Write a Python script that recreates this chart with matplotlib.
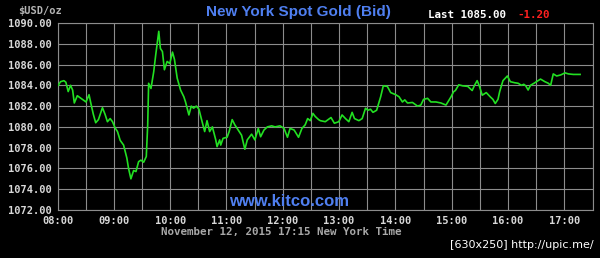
import matplotlib
matplotlib.use("Agg")
from matplotlib import pyplot as plt
import numpy as np

# minutes after 08:00 New York time, bid price
minutes = [0.7, 3.2, 6.8, 8.9, 11.4, 13.9, 16.1, 17.9, 21.1, 25.7, 30.4, 33.6, 35.7, 38.2,
           40.7, 43.6, 47.9, 50.7, 53.2, 56.1, 58.6, 61.4, 63.9, 66.8, 70.4, 73.9, 75.7,
           78.2, 81.1, 83.6, 86.4, 88.9, 91.8, 94.6, 96.1, 97.1, 99.6, 102.5, 104.6, 107.9,
           109.6, 111.8, 113.9, 116.8, 119.6, 122.5, 124.6, 127.5, 131.1, 134.6, 136.4,
           140.0, 142.5, 145.0, 147.9, 150.7, 153.2, 156.8, 159.3, 162.1, 165.0, 168.6,
           170.0, 172.8, 173.9, 176.4, 180.7, 182.9, 186.1, 188.9, 192.5, 196.1, 199.6,
           202.2, 206.8, 210.3, 213.9, 216.4, 220.0, 223.6, 228.2, 231.8, 237.1, 241.4,
           245.0, 247.8, 252.1, 256.8, 260.4, 263.9, 266.5, 269.3, 272.1, 274.6, 278.2,
           280.0, 285.3, 291.4, 295.0, 299.7, 303.2, 306.8, 310.4, 313.9, 316.4, 321.1,
           324.6, 328.2, 330.7, 333.5, 336.1, 340.0, 344.3, 347.1, 351.4, 355.0, 360.3,
           363.9, 367.5, 370.0, 372.9, 378.2, 383.6, 387.1, 390.0, 394.3, 397.8, 403.2,
           408.5, 413.9, 419.3, 422.1, 423.9, 427.5, 431.8, 437.1, 441.8, 444.3, 447.1,
           449.6, 452.5, 456.8, 461.0, 463.9, 466.4, 469.3, 471.1, 474.6, 479.3, 482.5,
           487.1, 490.7, 494.3, 496.8, 498.9, 501.4, 503.9, 508.6, 512.1, 514.6, 519.3,
           522.9, 525.4, 528.2, 531.8, 536.1, 540.7, 544.3, 549.6, 556.8]
bid = [1084.0, 1084.35, 1084.45, 1084.3, 1083.4, 1084.0, 1083.55, 1082.3, 1083.0, 1082.7,
       1082.4, 1083.1, 1082.2, 1081.2, 1080.4, 1080.7, 1081.85, 1081.2, 1080.5, 1080.8,
       1080.5, 1079.9, 1079.55, 1078.7, 1078.25, 1077.0, 1076.0, 1075.0, 1075.8, 1075.7,
       1076.65, 1076.8, 1076.6, 1077.15, 1080.2, 1084.2, 1083.7, 1085.3, 1086.9, 1089.2,
       1087.55, 1087.25, 1085.5, 1086.3, 1086.1, 1087.2, 1086.5, 1084.7, 1083.55, 1082.9,
       1082.4, 1081.15, 1082.0, 1081.8, 1082.0, 1081.7, 1080.8, 1079.55, 1080.6, 1079.55,
       1080.0, 1078.75, 1078.1, 1078.75, 1078.25, 1078.9, 1079.0, 1079.55, 1080.7, 1080.2,
       1079.7, 1079.2, 1077.85, 1078.75, 1079.3, 1078.75, 1079.85, 1079.05, 1079.7, 1080.0,
       1080.1, 1080.0, 1080.1, 1079.85, 1079.0, 1079.85, 1079.7, 1079.0, 1079.85, 1080.2,
       1080.8, 1080.6, 1081.3, 1081.0, 1080.7, 1080.6, 1080.5, 1080.9, 1080.35, 1080.5,
       1081.15, 1080.8, 1080.5, 1081.4, 1080.8, 1080.6, 1080.8, 1081.8, 1081.6, 1081.7,
       1081.4, 1081.6, 1082.9, 1083.95, 1083.9, 1083.3, 1083.1, 1082.9, 1082.4, 1082.6,
       1082.3, 1082.35, 1082.0, 1082.1, 1082.65, 1082.75, 1082.4, 1082.4, 1082.3, 1082.1,
       1082.9, 1083.4, 1083.5, 1084.05, 1083.95, 1083.9, 1083.5, 1084.0, 1084.45, 1083.9,
       1083.05, 1083.3, 1082.9, 1082.65, 1082.25, 1082.65, 1083.4, 1084.45, 1084.9, 1084.35,
       1084.25, 1084.2, 1084.0, 1084.1, 1083.95, 1083.55, 1084.0, 1084.25, 1084.45, 1084.6,
       1084.35, 1084.2, 1084.0, 1085.1, 1084.9, 1085.0, 1085.2, 1085.1, 1085.05, 1085.05]

hour_labels = ["08:00", "09:00", "10:00", "11:00", "12:00", "13:00", "14:00",
               "15:00", "16:00", "17:00"]
price_ticks = [1072, 1074, 1076, 1078, 1080, 1082, 1084, 1086, 1088, 1090]

mono = "DejaVu Sans Mono"
grey_txt = "#d8d8d8"

fig = plt.figure(figsize=(6, 2.58), dpi=100, facecolor="black")
ax = fig.add_axes([57.5 / 600, 1 - 210 / 258, 535 / 600, 187 / 258])
ax.set_facecolor("black")

ax.plot(minutes, bid, color="#22e022", lw=1.2, zorder=3)

ax.set_xlim(0, 570)
ax.set_ylim(1072, 1090)
ax.set_xticks(np.arange(len(hour_labels)) * 60)
ax.set_xticklabels(hour_labels)
ax.set_xticks(np.arange(0, 571, 30), minor=True)
ax.set_yticks(price_ticks)
ax.set_yticklabels([f"{p:.2f}" for p in price_ticks])
ax.grid(True, which="both", color="#8c8c8c", lw=0.8)
ax.tick_params(which="both", length=0)
ax.tick_params(axis="y", pad=4)
ax.tick_params(axis="x", pad=4)
for lab in ax.get_xticklabels() + ax.get_yticklabels():
    lab.set_fontfamily(mono)
    lab.set_fontweight("bold")
    lab.set_fontsize(7.5)
    lab.set_color(grey_txt)
for s in ax.spines.values():
    s.set_color("#8c8c8c")
    s.set_linewidth(0.8)

fig.text(18 / 600, 1 - 11 / 258, "$USD/oz", color="#b4b4b4", family=mono,
         fontsize=7.5, fontweight="bold", va="center", ha="left")
fig.text(298 / 600, 1 - 12 / 258, "New York Spot Gold (Bid)", color="#4f7ff0",
         family="Liberation Sans", fontsize=11, fontweight="bold", va="center", ha="center")
fig.text(428 / 600, 1 - 15 / 258, "Last 1085.00", color="white", family=mono,
         fontsize=7.8, fontweight="bold", va="center", ha="left")
fig.text(517 / 600, 1 - 15 / 258, "-1.20", color="#ff2020", family=mono,
         fontsize=7.8, fontweight="bold", va="center", ha="left")
fig.text(289 / 600, 1 - 202 / 258, "www.kitco.com", color="#4f7ff0",
         family="Liberation Sans", fontsize=12, fontweight="bold", va="center", ha="center")
fig.text(281 / 600, 1 - 232 / 258, "November 12, 2015 17:15 New York Time",
         color="#a8a8a8", family=mono, fontsize=7.8, fontweight="bold",
         va="center", ha="center")
fig.text(594 / 600, 1 - 245 / 258, "[630x250] http://upic.me/", color="white",
         family="DejaVu Sans", fontsize=8, va="center", ha="right")

fig.savefig("out.png", dpi=100, facecolor="black")
